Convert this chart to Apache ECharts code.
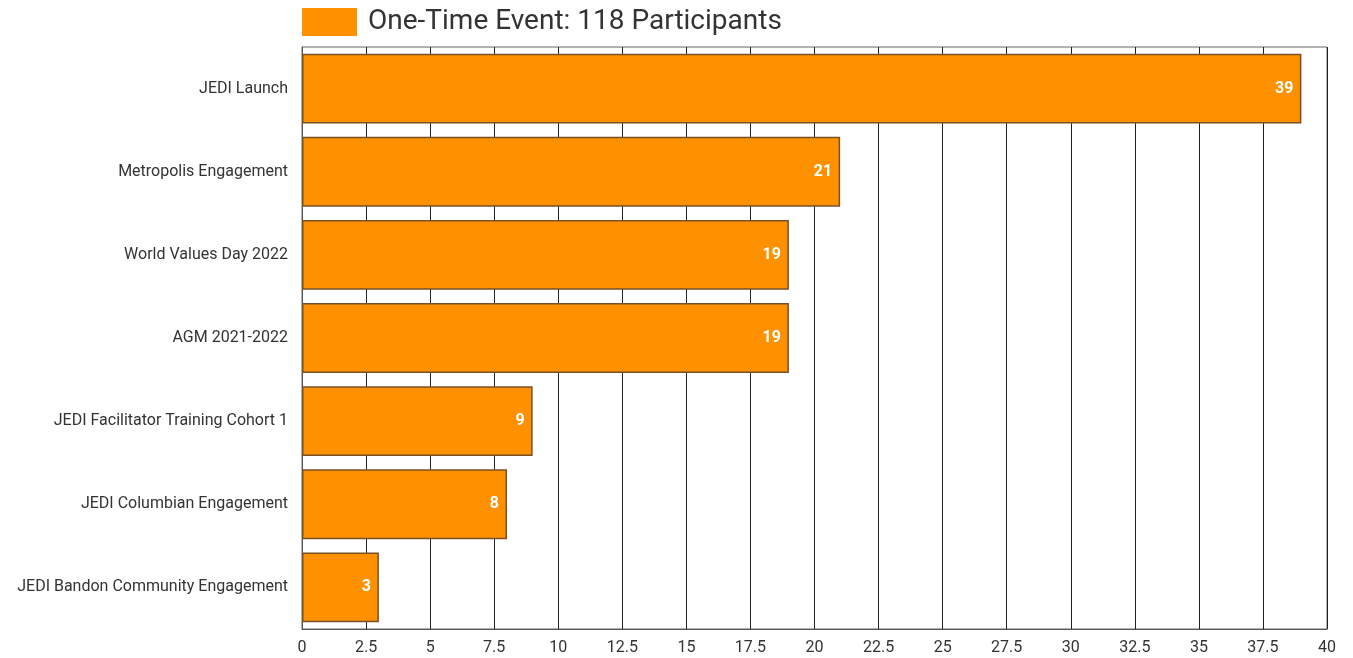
<!DOCTYPE html>
<html>
<head>
<meta charset="utf-8">
<script src="https://cdn.jsdelivr.net/npm/echarts@6/dist/echarts.min.js"></script>
<style>
  html, body { margin: 0; padding: 0; background: #fff; }
  #chart { width: 1353px; height: 658px; }
</style>
</head>
<body>
<div id="chart"></div>
<script>
// One-time events and their participant counts (top to bottom)
const events = [
  'JEDI Launch',
  'Metropolis Engagement',
  'World Values Day 2022',
  'AGM 2021-2022',
  'JEDI Facilitator Training Cohort 1',
  'JEDI Columbian Engagement',
  'JEDI Bandon Community Engagement'
];
const participants = [39, 21, 19, 19, 9, 8, 3];
const seriesName = 'One-Time Event: 118 Participants';

const chart = echarts.init(document.getElementById('chart'));
chart.setOption({
  animation: false,
  textStyle: { fontFamily: 'Roboto, "Noto Sans", sans-serif' },
  legend: {
    top: 8,
    left: 302,
    padding: 0,
    icon: 'rect',
    itemWidth: 55,
    itemHeight: 28,
    itemGap: 10,
    textStyle: { fontSize: 28, color: '#333', padding: [0, 0, 0, 6] },
    data: [{ name: seriesName, itemStyle: { borderWidth: 0 } }]
  },
  grid: {
    left: 302, right: 26, top: 47, bottom: 29,
    show: true, borderColor: '#666', borderWidth: 1
  },
  xAxis: {
    type: 'value',
    min: 0, max: 40, interval: 2.5,
    axisLine: { show: true, lineStyle: { color: '#555' } },
    axisTick: { show: false },
    axisLabel: { color: '#333', fontSize: 16, margin: 11 },
    splitLine: { show: true, lineStyle: { color: '#222', width: 1 } }
  },
  yAxis: {
    type: 'category',
    inverse: true,
    data: events,
    axisLine: { show: true, lineStyle: { color: '#555' } },
    axisTick: { show: false },
    axisLabel: { color: '#333', fontSize: 16, margin: 14 }
  },
  series: [{
    name: seriesName,
    type: 'bar',
    data: participants,
    barCategoryGap: '16%',
    itemStyle: { color: '#FF9100', borderColor: '#7a5028', borderWidth: 1.5 },
    label: {
      show: true,
      position: 'insideRight',
      color: '#fff',
      fontWeight: 'bold',
      fontSize: 16,
      distance: 8
    }
  }]
});
</script>
</body>
</html>
